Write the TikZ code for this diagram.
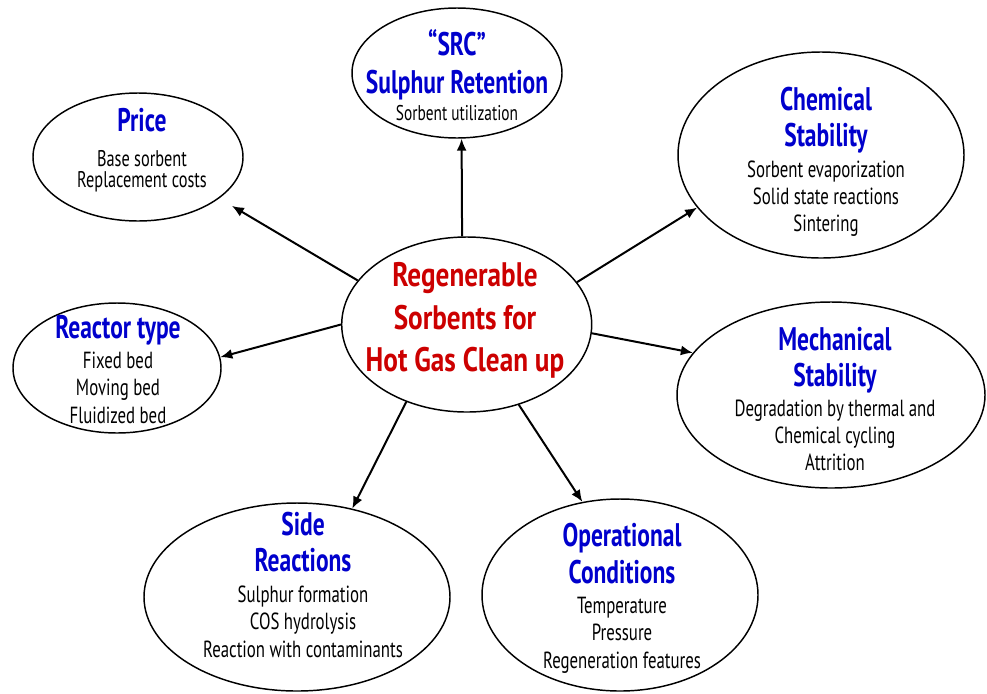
\documentclass[tikz,border=0pt]{standalone}
\usepackage{fontspec}
\setmainfont{PT Sans}[FakeStretch=0.72, BoldFeatures={FakeStretch=0.72}]
\newfontfamily\hubfont{PT Sans}[FakeStretch=0.80, BoldFeatures={FakeStretch=0.80}]
\usetikzlibrary{arrows.meta, shapes.geometric}
\definecolor{headblue}{RGB}{0,0,204}
\definecolor{hubred}{RGB}{204,0,0}

\begin{document}
\begin{tikzpicture}
[x=0.75pt, y=-0.75pt,
   arr/.style={line width=1.5pt, -{Latex[length=9pt, width=7.5pt]}},
   oval/.style={shape=ellipse, draw, line width=1.1pt, inner sep=0pt},
   head/.style={font=\fontsize{24.5}{27.5}\selectfont\bfseries, text=headblue, align=center, anchor=base, inner sep=0pt},
   body/.style={font=\fontsize{17.5}{20.5}\selectfont, align=center, anchor=base, inner sep=0pt}]
\useasboundingbox (0,0) rectangle (987,693);
% ellipses
\node[oval, minimum width=187.5pt, minimum height=131.25pt] (hub) at (466.7,324.5) {};
\node[oval, minimum width=157.5pt, minimum height=97.5pt] (src) at (457,73) {};
\node[oval, minimum width=157.5pt, minimum height=96pt] (price) at (138,157) {};
\node[oval, minimum width=214.5pt, minimum height=154.5pt] (chem) at (821,155) {};
\node[oval, minimum width=156pt, minimum height=97.5pt] (reactor) at (117,368) {};
\node[oval, minimum width=231pt, minimum height=139.5pt] (mech) at (831,395) {};
\node[oval, minimum width=229.5pt, minimum height=141pt] (side) at (297,597) {};
\node[oval, minimum width=207pt, minimum height=144pt] (oper) at (620,595) {};
% texts (base = last line)
\node[head, font=\fontsize{25.5}{31.9}\selectfont\hubfont\bfseries, text=hubred] (hubT) at (465,371.7) {Regenerable\\Sorbents for\\Hot Gas Clean up};
\node[head, font=\fontsize{24.5}{28.7}\selectfont\bfseries] (srcT) at (457,93.3) {“SRC”\\Sulphur Retention};
\node[body, font=\fontsize{16}{20}\selectfont] (srcB) at (457,120.7) {Sorbent utilization};
\node[head] (priceT) at (142,131.7) {Price};
\node[body, font=\fontsize{17}{15.5}\selectfont] (priceB) at (142,187.3) {Base sorbent\\Replacement costs};
\node[head] (chemT) at (826,146.7) {Chemical\\Stability};
\node[body] (chemB) at (826,231.7) {Sorbent evaporization\\Solid state reactions\\Sintering};
\node[head] (reactorT) at (118,338.3) {Reactor type};
\node[body] (reactorB) at (118,423.3) {Fixed bed\\Moving bed\\Fluidized bed};
\node[head] (mechT) at (835,386.7) {Mechanical\\Stability};
\node[body] (mechB) at (835,470.7) {Degradation by thermal and\\Chemical cycling\\Attrition};
\node[head] (sideT) at (303,571.7) {Side\\Reactions};
\node[body] (sideB) at (303,657.3) {Sulphur formation\\COS hydrolysis\\Reaction with contaminants};
\node[head] (operT) at (622,583.3) {Operational\\Conditions};
\node[body] (operB) at (622,668.3) {Temperature\\Pressure\\Regeneration features};
% arrows
\draw[arr] (hub.93.7) -- (src.-86.6);
\draw[arr, shorten >=11pt] (hub.158.8) -- (price.-27);
\draw[arr] (hub.21.4) -- (chem.-157.5);
\draw[arr] (hub.180) -- (reactor.6);
\draw[arr] (hub.-4.8) -- (mech.163.8);
\draw[arr] (hub.-128.5) -- (side.58.2);
\draw[arr] (hub.-57.1) -- (oper.112.1);
\end{tikzpicture}
\end{document}
